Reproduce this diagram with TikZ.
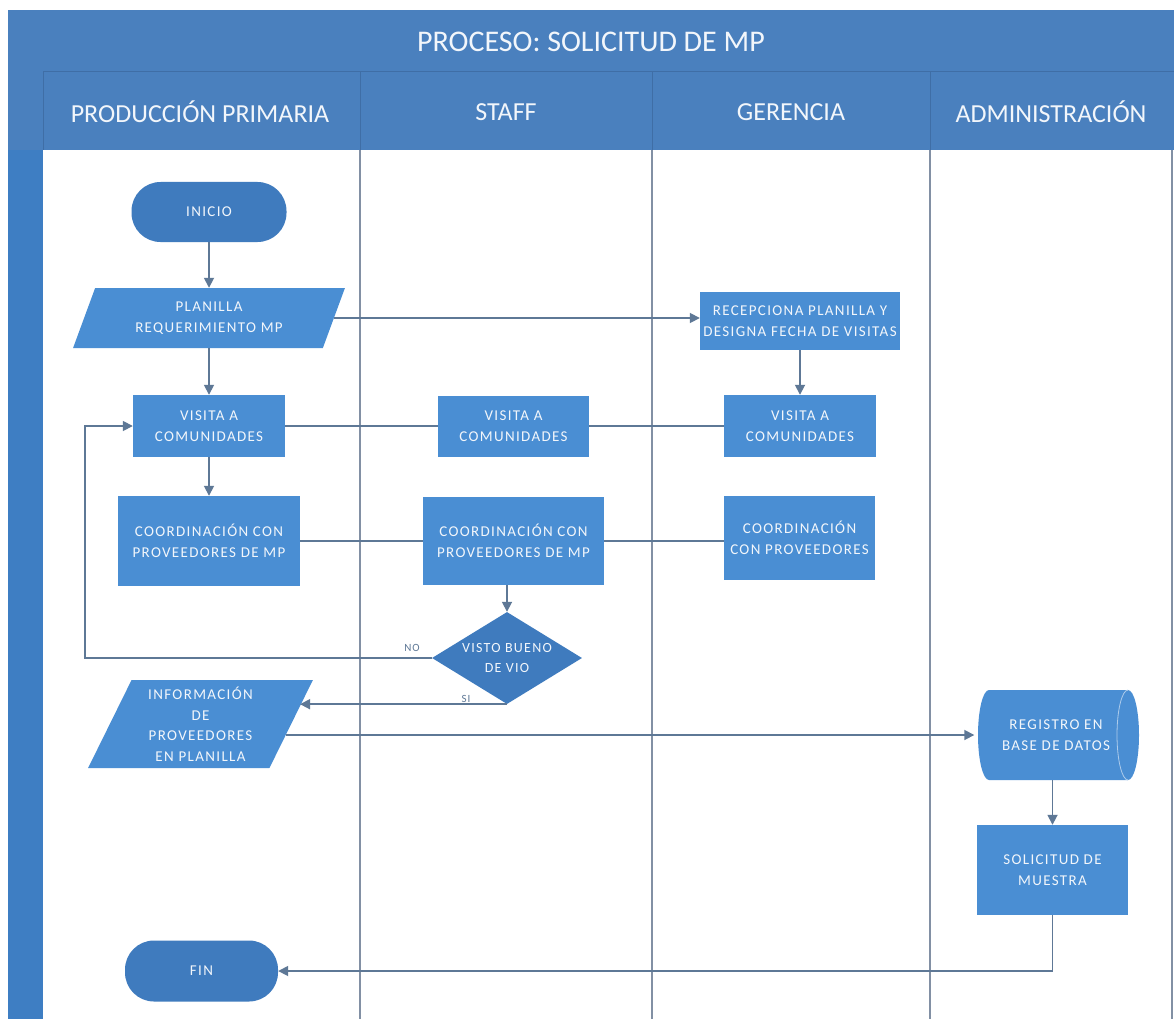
\documentclass[tikz,border=0pt]{standalone}
\usepackage{fontspec}
\setmainfont{Carlito}
\newfontfamily\boxfam[LetterSpace=9]{Carlito}
\usetikzlibrary{arrows.meta,shapes.geometric,calc}

\definecolor{hdrblue}{HTML}{4A80BE}
\definecolor{hdrline}{HTML}{3F6EA6}
\definecolor{stripblue}{HTML}{3E7EC3}
\definecolor{boxblue}{HTML}{4A8ED3}
\definecolor{termblue}{HTML}{3F7BBE}
\definecolor{linecol}{HTML}{5E7896}
\definecolor{lanecol}{HTML}{8290A4}
\definecolor{txtwhite}{HTML}{F2F6FB}

\newcommand\boxfont{\boxfam\fontsize{15}{20.5}\selectfont}
\newcommand\headfont{\fontsize{26}{30}\selectfont}

\tikzset{
  proc/.style={rectangle, fill=boxblue, text=txtwhite, font=\boxfont, align=center, inner sep=0pt},
  term/.style={rectangle, rounded corners=29pt, fill=termblue, text=txtwhite, font=\boxfont, inner sep=0pt},
  io/.style={trapezium, trapezium left angle=66, trapezium right angle=114, trapezium stretches=true,
             fill=boxblue, text=txtwhite, font=\boxfont, align=center, inner sep=0pt},
  dec/.style={diamond, fill=termblue, text=txtwhite, font=\boxfam\fontsize{14}{20}\selectfont,
              align=center, inner sep=-4pt, minimum width=150pt, minimum height=92pt, aspect=1.63},
  link/.style={draw=linecol, line width=1.7pt},
  arr/.style={link, -{Triangle[length=10pt,width=10pt]}},
  lane/.style={draw=lanecol, line width=1.3pt},
  tag/.style={text=linecol, font=\boxfam\fontsize{11}{12}\selectfont}
}

\begin{document}
\begin{tikzpicture}[x=1pt,y=-1pt]
  % page and margins
  \fill[white] (0,0) rectangle (1174,1019);
  \useasboundingbox (0,0) rectangle (1174,1019);

  % pool header and left band
  \fill[hdrblue] (8,10) rectangle (1174,150);
  \fill[stripblue] (8,150) rectangle (43,1019);
  \draw[hdrline, line width=1pt] (43,72) -- (1174,72);
  \foreach \xx in {43,360,652,930} {
    \draw[hdrline, line width=1pt] (\xx,72) -- (\xx,150);
  }

  % lane separators
  \foreach \xx in {360,652,930,1172} {
    \draw[lane] (\xx,150) -- (\xx,1019);
  }

  % titles
  \node[text=txtwhite, font=\fontsize{30}{34}\selectfont] (title) at (591,42) {PROCESO: SOLICITUD DE MP};
  \node[text=txtwhite, font=\headfont] (h1) at (200,112) {PRODUCCIÓN PRIMARIA};
  \node[text=txtwhite, font=\headfont] (h2) at (506,112) {STAFF};
  \node[text=txtwhite, font=\headfont] (h3) at (791,112) {GERENCIA};
  \node[text=txtwhite, font=\headfont] (h4) at (1051,112) {ADMINISTRACIÓN};

  % flow elements
  \node[term, minimum width=155pt, minimum height=60pt] (ini) at (209,212) {INICIO};
  \node[io, minimum width=272pt, minimum height=60pt] (plan) at (209,318) {PLANILLA\\REQUERIMIENTO MP};
  \node[proc, minimum width=200pt, minimum height=58pt] (rec) at (800,321) {RECEPCIONA PLANILLA Y\\DESIGNA FECHA DE VISITAS};

  \node[proc, minimum width=152pt, minimum height=62pt] (v1) at (209,426) {VISITA A\\COMUNIDADES};
  \node[proc, minimum width=151pt, minimum height=61pt] (v2) at (513.5,426) {VISITA A\\COMUNIDADES};
  \node[proc, minimum width=152pt, minimum height=62pt] (v3) at (800,426) {VISITA A\\COMUNIDADES};

  \node[proc, minimum width=182pt, minimum height=90pt] (c1) at (209,541) {COORDINACIÓN CON\\PROVEEDORES DE MP};
  \node[proc, minimum width=181pt, minimum height=88pt] (c2) at (513.5,541) {COORDINACIÓN CON\\PROVEEDORES DE MP};
  \node[proc, minimum width=151pt, minimum height=84pt] (c3) at (799.5,538) {COORDINACIÓN\\CON PROVEEDORES};

  \node[dec] (dia) at (507,658) {VISTO BUENO\\DE VIO};

  \node[io, minimum width=225pt, minimum height=88pt] (info) at (200.5,724) {INFORMACIÓN\\DE\\PROVEEDORES\\EN PLANILLA};

  % storage drum
  \fill[boxblue] (989,690) -- (1128,690)
     arc[start angle=-90, end angle=90, x radius=11, y radius=45]
     -- (989,780)
     arc[start angle=90, end angle=270, x radius=11, y radius=45] -- cycle;
  \draw[white!55!boxblue, line width=0.8pt] (1128,690)
     arc[start angle=-90, end angle=-270, x radius=11, y radius=45];
  \node[text=txtwhite, font=\boxfont, align=center, inner sep=0pt,
        minimum width=163pt, minimum height=90pt] (reg) at (1056,735) {REGISTRO EN\\BASE DE DATOS};

  \node[proc, minimum width=151pt, minimum height=90pt] (sol) at (1052.5,870) {SOLICITUD DE\\MUESTRA};
  \node[term, minimum width=153pt, minimum height=61pt] (fin) at (201.5,971) {FIN};

  % connectors
  \coordinate (back) at (85,0);
  \draw[arr] (ini.south) -- (plan.north);
  \draw[arr] (plan.south) -- (v1.north);
  \draw[arr] (plan.east) -- (plan.east -| rec.west);
  \draw[arr] (rec.south) -- (v3.north);
  \draw[link] (v1.east) -- (v2.west);
  \draw[link] (v2.east) -- (v3.west);
  \draw[arr] (v1.south) -- (c1.north);
  \draw[link] (c1.east) -- (c2.west);
  \draw[link] (c2.east) -- (c2.east -| c3.west);
  \draw[arr] (dia.north |- c2.south) -- (dia.north);
  \draw[arr] (dia.west) -- (dia.west -| back) |- (v1.west);
  \node[tag] (no) at (412,648) {NO};
  \draw[arr] (dia.south) -- (dia.south -| info.10);
  \node[tag] (si) at (466,699) {SI};
  \draw[arr] (info.-7 |- reg.west) -- (reg.west);
  \draw[arr] (sol.north |- reg.south) -- (sol.north);
  \draw[arr] (sol.south) |- (fin.east);
\end{tikzpicture}
\end{document}
